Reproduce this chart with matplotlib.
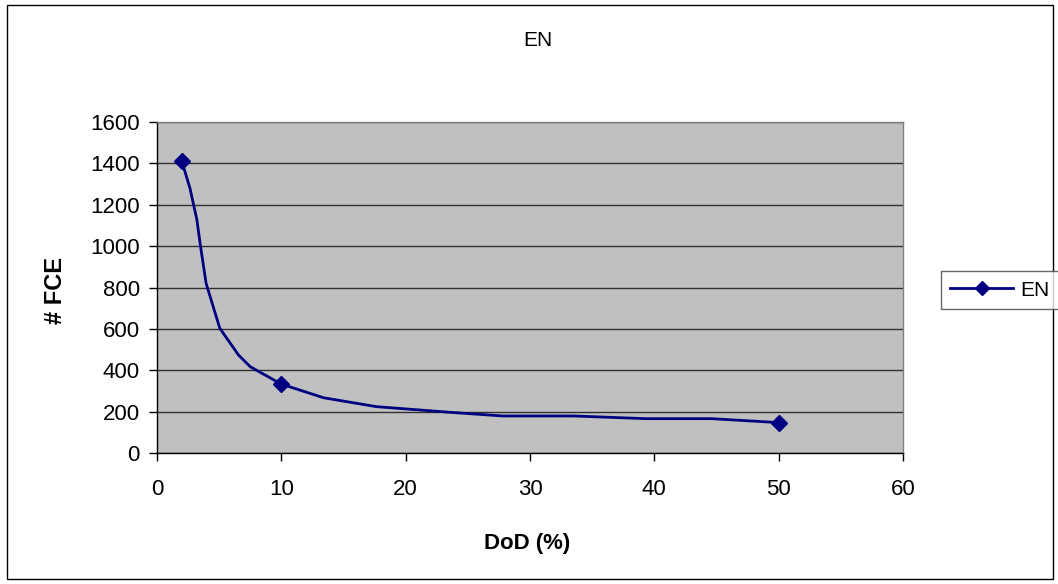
import matplotlib
matplotlib.use("Agg")
import matplotlib.pyplot as plt
from matplotlib.patches import Rectangle
from matplotlib.lines import Line2D

plt.rcParams['font.family'] = ['Liberation Sans', 'DejaVu Sans']

# Data points (markers)
dod_points = [2, 10, 50]
fce_points = [1410, 333, 147]

# Curve drawn through the chart
dod_curve = [2, 2.65, 3.2, 3.5, 3.95, 5.05, 6.55, 7.5, 10, 13.4, 17.65, 23.5,
             27.8, 33.5, 39.3, 44.6, 50]
fce_curve = [1410, 1280, 1130, 1000, 820, 603, 474, 417, 333, 267, 224, 197,
             179, 179, 166, 166, 147]

x_ticks = [0, 10, 20, 30, 40, 50, 60]
y_ticks = [0, 200, 400, 600, 800, 1000, 1200, 1400, 1600]

W, H = 1058, 584
fig = plt.figure(figsize=(W / 100, H / 100), dpi=100)
fig.patch.set_facecolor('white')

# outer chart border
fig.patches.append(Rectangle((7 / W, 1 - 579 / H), (1053 - 7) / W, (579 - 5) / H,
                             transform=fig.transFigure, fill=False,
                             edgecolor='black', linewidth=1.0))

left, right, top, bottom = 157, 903, 122, 453
ax = fig.add_axes([left / W, 1 - bottom / H, (right - left) / W, (bottom - top) / H])
ax.set_facecolor('#C0C0C0')
ax.set_xlim(0, 60)
ax.set_ylim(0, 1600)
ax.set_xticks(x_ticks)
ax.set_yticks(y_ticks)
ax.tick_params(labelsize=16, direction='out', length=5.5, width=1, colors='black')
ax.tick_params(axis='y', pad=7)
ax.tick_params(axis='x', pad=13)
ax.grid(axis='y', color='black', linewidth=1.0, alpha=0.75)
ax.set_axisbelow(True)
for side in ['top', 'right']:
    ax.spines[side].set_color('#808080')
    ax.spines[side].set_linewidth(1.0)
for side in ['left', 'bottom']:
    ax.spines[side].set_color('black')
    ax.spines[side].set_linewidth(1.0)

color = '#000080'
ax.plot(dod_curve, fce_curve, color=color, linewidth=2.0, zorder=3)
ax.plot(dod_points, fce_points, linestyle='none', marker='D', markersize=8,
        color=color, zorder=4)

fig.text(538 / W, 1 - 40 / H, 'EN', ha='center', va='center', fontsize=15)
fig.text(527 / W, 1 - 544 / H, 'DoD (%)', ha='center', va='center', fontsize=16,
         fontweight='bold')
fig.text(55 / W, 1 - 290 / H, '# FCE', ha='center', va='center', fontsize=17,
         fontweight='bold', rotation=90)

handle = Line2D([], [], color=color, linewidth=2.0, marker='D', markersize=7)
leg = fig.legend([handle], ['EN'], loc='center', bbox_to_anchor=(1000 / W, 1 - 290 / H),
                 fontsize=15, frameon=True, fancybox=False, handlelength=3.0,
                 borderpad=0.45, handletextpad=0.35, borderaxespad=0)
leg.get_frame().set_edgecolor('#404040')
leg.get_frame().set_linewidth(1.0)

fig.savefig('out.png', dpi=100)
